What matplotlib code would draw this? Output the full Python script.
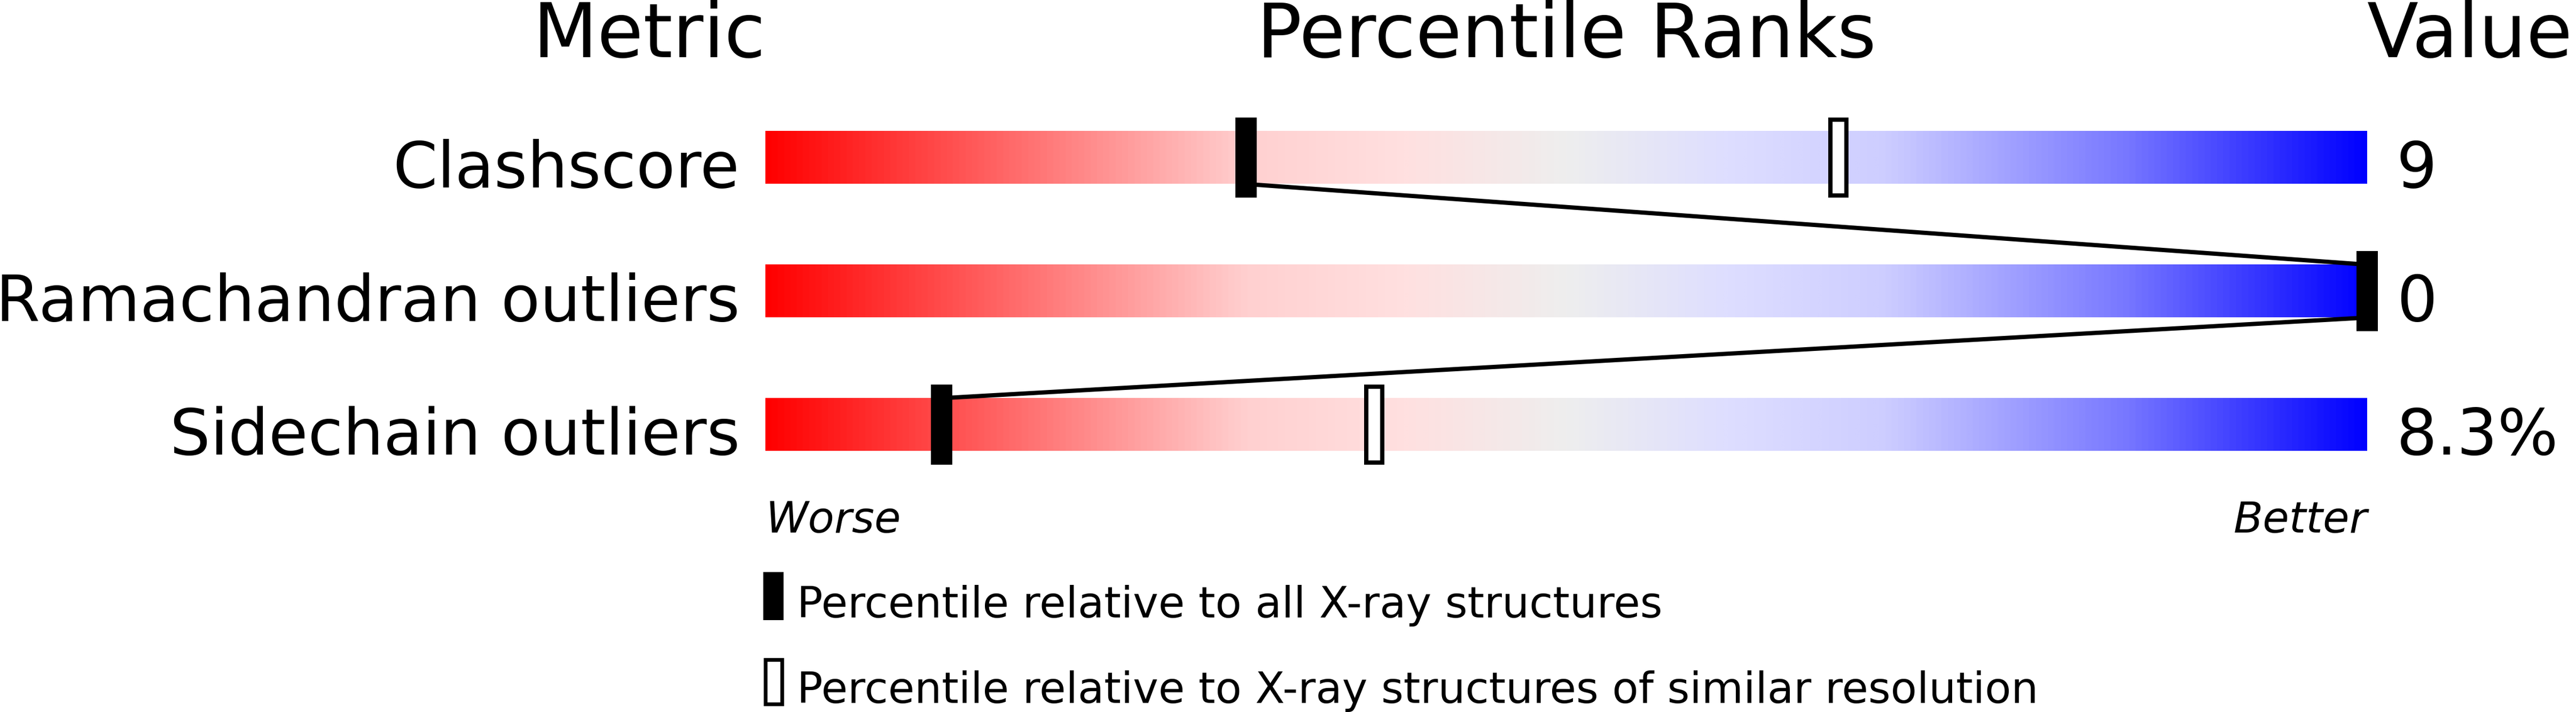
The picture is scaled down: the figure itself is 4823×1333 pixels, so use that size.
import numpy as np
import matplotlib
matplotlib.use("Agg")
import matplotlib.pyplot as plt
from matplotlib.colors import LinearSegmentedColormap
from matplotlib.patches import Rectangle

# ---- data ----
metrics = ["Clashscore", "Ramachandran outliers", "Sidechain outliers"]
values = ["9", "0", "8.3%"]
pct_all = [30, 100, 11]        # percentile relative to all X-ray structures
pct_similar = [67, None, 38]   # percentile relative to similar resolution
legend_labels = ["Percentile relative to all X-ray structures",
                 "Percentile relative to X-ray structures of similar resolution"]

W, H = 4823, 1333
DPI = 100
fig = plt.figure(figsize=(W / DPI, H / DPI), dpi=DPI)
fig.patch.set_facecolor("white")

# axes: x 0..100 percentile mapped to pixels 1433..4432; rows at 295,545,795 px
ax_l, ax_r = 1433, 4432
ax_t, ax_b = 170, 920
ax = fig.add_axes([ax_l / W, 1 - ax_b / H, (ax_r - ax_l) / W, (ax_b - ax_t) / H])
ax.set_xlim(0, 100)
ax.set_ylim(2.5, -0.5)
ax.axis("off")

px_x = 100.0 / (ax_r - ax_l)   # percentile units per pixel
px_y = 3.0 / (ax_b - ax_t)     # row units per pixel

cmap = LinearSegmentedColormap.from_list("slider", [
    (0.00, "#FF0000"),
    (0.30, "#FFD0D0"),
    (0.40, "#FFE0E0"),
    (0.50, "#EEEEEE"),
    (0.60, "#DEDEFF"),
    (0.70, "#CDCDFF"),
    (0.85, "#7878FF"),
    (1.00, "#0000FF"),
])
grad = np.linspace(0, 1, 1024).reshape(1, -1)

bar_h = 99 * px_y
mark_w = 40 * px_x
mark_h = 150 * px_y
open_lw_px = 8
open_lw = open_lw_px * 72 / DPI

for i, m in enumerate(metrics):
    ax.imshow(grad, cmap=cmap, aspect="auto",
              extent=[0, 100, i + bar_h / 2, i - bar_h / 2], zorder=1)

# connecting line between black markers
for i in range(len(metrics) - 1):
    ax.plot([pct_all[i], pct_all[i + 1]], [i + bar_h / 2, i + 1 - bar_h / 2],
            color="black", lw=8 * 72 / DPI, solid_capstyle="butt", zorder=3, clip_on=False)

for i in range(len(metrics)):
    ax.add_patch(Rectangle((pct_all[i] - mark_w / 2, i - mark_h / 2), mark_w, mark_h,
                           facecolor="black", edgecolor="none", zorder=4, clip_on=False))
    if pct_similar[i] is not None:
        ow = 38 * px_x - open_lw_px * px_x
        oh = mark_h - open_lw_px * px_y
        ax.add_patch(Rectangle((pct_similar[i] - ow / 2, i - oh / 2), ow, oh,
                               facecolor="white", edgecolor="black", lw=open_lw,
                               zorder=4, clip_on=False))

# labels
row_fs = 86
for i, m in enumerate(metrics):
    ax.text(-48 * px_x, i + 56 * px_y, m, ha="right", va="baseline",
            fontsize=row_fs, family="DejaVu Sans")
    ax.text(100 + 55 * px_x, i + 56 * px_y, values[i], ha="left", va="baseline",
            fontsize=row_fs, family="DejaVu Sans")

title_y = -0.5 - (ax_t - 107) * px_y
title_fs = 101
ax.text(0, title_y, "Metric", ha="right", va="baseline", fontsize=title_fs)
ax.text(50, title_y, "Percentile Ranks", ha="center", va="baseline", fontsize=title_fs)
ax.text(100, title_y, "Value", ha="left", va="baseline", fontsize=title_fs)

wb_y = 2.5 + (997 - ax_b) * px_y
ax.text(0, wb_y, "Worse", ha="left", va="baseline", fontsize=58, style="italic")
ax.text(100, wb_y, "Better", ha="right", va="baseline", fontsize=58, style="italic")

# legend
leg_top = [1071, 1231]
for k, lab in enumerate(legend_labels):
    y0 = 2.5 + (leg_top[k] - ax_b) * px_y
    lh = 90 * px_y
    x0 = (1429 - ax_l) * px_x
    lw_ = 38 * px_x
    if k == 0:
        ax.add_patch(Rectangle((x0, y0), lw_, lh, facecolor="black", edgecolor="none",
                               clip_on=False, zorder=4))
    else:
        e = 7
        ax.add_patch(Rectangle((x0 + e / 2 * px_x, y0 + e / 2 * px_y),
                               lw_ - e * px_x, lh - e * px_y,
                               facecolor="white", edgecolor="black", lw=e * 72 / DPI,
                               clip_on=False, zorder=4))
    ax.text((1492 - ax_l) * px_x, y0 + 85 * px_y, lab, ha="left", va="baseline",
            fontsize=58)

fig.savefig("out.png", dpi=DPI, facecolor="white")
